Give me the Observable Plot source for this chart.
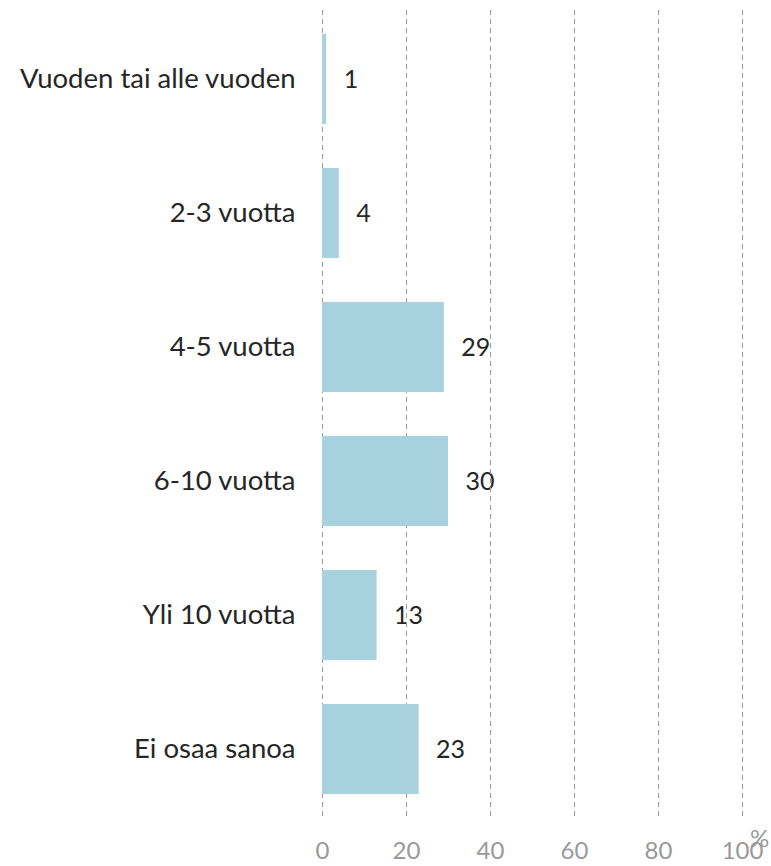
<!DOCTYPE html>
<html>
<head>
<meta charset="utf-8">
<script src="https://cdn.jsdelivr.net/npm/d3@7"></script>
<script src="https://cdn.jsdelivr.net/npm/@observablehq/plot@0.6"></script>
<style>
  html, body { margin: 0; padding: 0; background: #fff; }
  #chart svg { display: block; }
</style>
</head>
<body>
<div id="chart"></div>
<script>
const categories = ["Vuoden tai alle vuoden", "2-3 vuotta", "4-5 vuotta", "6-10 vuotta", "Yli 10 vuotta", "Ei osaa sanoa"];
const values = [1, 4, 29, 30, 13, 23];
const xTicks = [0, 20, 40, 60, 80, 100];
const unitLabel = "%";

const data = categories.map((c, i) => ({category: c, value: values[i]}));

const chart = Plot.plot({
  width: 771,
  height: 866,
  marginLeft: 322,
  marginRight: 29,
  marginTop: 10,
  marginBottom: 49,
  style: {fontFamily: "Lato, 'Open Sans', sans-serif", background: "#fff"},
  x: {domain: [0, 100], ticks: xTicks},
  y: {domain: categories, paddingInner: 0.33, paddingOuter: 0.165},
  marks: [
    Plot.text(data, {x: "value", y: "category", text: d => String(d.value), textAnchor: "start", dx: 17, fontSize: 25, fill: "#262626"}),
    Plot.gridX(xTicks, {stroke: "#9a9a9a", strokeOpacity: 1, strokeDasharray: "5,4", strokeWidth: 1}),
    Plot.barX(data, {x: "value", y: "category", fill: "#a9d2df"}),
    Plot.axisX(xTicks, {tickSize: 0, tickPadding: 24, fontSize: 24, fill: "#999999", label: null}),
    Plot.axisY({tickSize: 0, tickPadding: 27, fontSize: 27.5, fill: "#262626", label: null}),
    Plot.text([unitLabel], {frameAnchor: "bottom-right", dx: 17, dy: 29, fontSize: 24, fill: "#999999", textAnchor: "middle"})
  ]
});
document.getElementById("chart").appendChild(chart);
</script>
</body>
</html>
